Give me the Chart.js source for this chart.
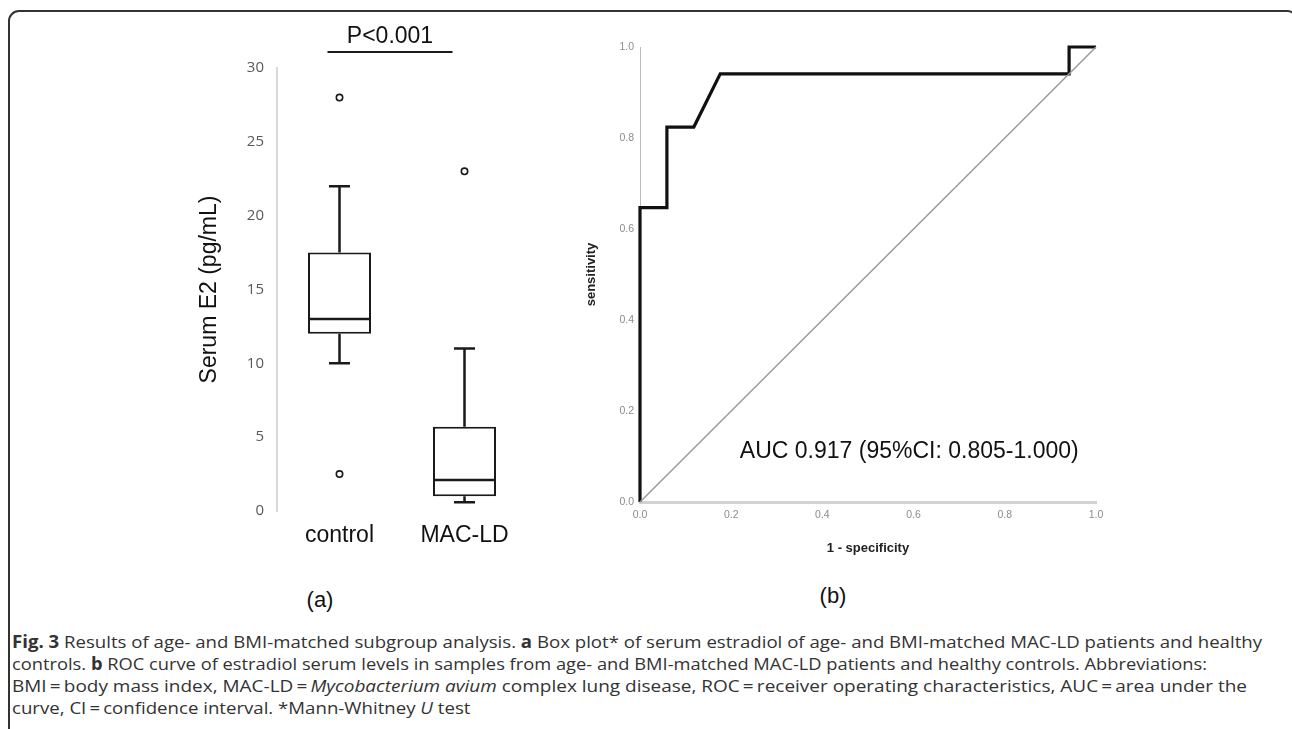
<!DOCTYPE html>
<html>
<head>
<meta charset="utf-8">
<script src="https://cdn.jsdelivr.net/npm/chart.js@4.4.1/dist/chart.umd.min.js"></script>
<style>
    html, body { margin: 0; padding: 0; background: #fff; }
    body { width: 1292px; height: 729px; position: relative; overflow: hidden; }
    .frame {
        position: absolute; left: 8px; top: 10px; width: 1290px; height: 740px;
        border: 2px solid #333; border-radius: 11px; box-sizing: border-box;
    }
    .box { position: absolute; }
    .panel-label {
        position: absolute; font-family: 'Liberation Sans', Arial, sans-serif;
        font-size: 22px; color: #111; transform: translate(-50%, -50%);
    }
    .cap {
        position: absolute; left: 12px; white-space: nowrap;
        font-family: 'Open Sans', sans-serif; font-size: 17px; color: #333;
        transform-origin: 0 50%; line-height: 22px;
    }
</style>
</head>
<body>
<div class="frame"></div>

<div class="box" style="left:190px; top:0px; width:360px; height:560px;">
    <canvas id="boxChart" width="360" height="560"></canvas>
</div>
<div class="box" style="left:560px; top:0px; width:560px; height:560px;">
    <canvas id="rocChart" width="560" height="560"></canvas>
</div>

<div class="panel-label" style="left:320px; top:600px;">(a)</div>
<div class="panel-label" style="left:833px; top:596px;">(b)</div>

<div class="cap" data-w="1250" style="top:631px;"><b>Fig. 3</b> Results of age- and BMI-matched subgroup analysis. <b>a</b> Box plot* of serum estradiol of age- and BMI-matched MAC-LD patients and healthy</div>
<div class="cap" data-w="1195" style="top:653px;">controls. <b>b</b> ROC curve of estradiol serum levels in samples from age- and BMI-matched MAC-LD patients and healthy controls. Abbreviations:</div>
<div class="cap" data-w="1235" style="top:675px;">BMI&thinsp;=&thinsp;body mass index, MAC-LD&thinsp;=&thinsp;<i>Mycobacterium avium</i> complex lung disease, ROC&thinsp;=&thinsp;receiver operating characteristics, AUC&thinsp;=&thinsp;area under the</div>
<div class="cap" style="top:697px;">curve, CI&thinsp;=&thinsp;confidence interval. *Mann-Whitney <i>U</i> test</div>

<script>
    // panel (a): serum E2 box plot
    var groups = ['control', 'MAC-LD'];
    var whiskerLow = [10.0, 0.6];
    var boxQ1 = [12.0, 1.0];
    var boxMedian = [13.0, 2.1];
    var boxQ3 = [17.5, 5.7];
    var whiskerHigh = [22.0, 11.0];
    var outlierGroup = ['control', 'control', 'MAC-LD'];
    var outlierValue = [28.0, 2.5, 23.0];
    var e2Min = 0, e2Max = 30, e2Step = 5;
    var pText = 'P<0.001';

    // panel (b): ROC curve
    var rocFpr = [0, 0, 0.059, 0.059, 0.118, 0.176, 0.941, 0.941, 1.0];
    var rocTpr = [0, 0.647, 0.647, 0.824, 0.824, 0.941, 0.941, 1.0, 1.0];
    var refFpr = [0, 1];
    var refTpr = [0, 1];
    var aucText = 'AUC 0.917 (95%CI: 0.805-1.000)';
    var aucAt = [0.219, 0.11];

    var ARIAL = "'Liberation Sans', Arial, sans-serif";

    var boxPlugin = {
        id: 'boxWhiskers',
        afterDatasetsDraw: function (chart) {
            var ctx = chart.ctx;
            var y = chart.scales.y;
            var x = chart.scales.x;
            var bars = chart.getDatasetMeta(0).data;
            ctx.save();
            ctx.strokeStyle = '#1a1a1a';
            ctx.lineWidth = 2.5;
            bars.forEach(function (bar, i) {
                var cx = bar.x;
                var half = bar.width / 2;
                var cap = bar.width / 6;
                ctx.beginPath();
                // median
                ctx.moveTo(cx - half, y.getPixelForValue(boxMedian[i]));
                ctx.lineTo(cx + half, y.getPixelForValue(boxMedian[i]));
                // whiskers
                ctx.moveTo(cx, y.getPixelForValue(boxQ3[i]));
                ctx.lineTo(cx, y.getPixelForValue(whiskerHigh[i]));
                ctx.moveTo(cx - cap, y.getPixelForValue(whiskerHigh[i]));
                ctx.lineTo(cx + cap, y.getPixelForValue(whiskerHigh[i]));
                ctx.moveTo(cx, y.getPixelForValue(boxQ1[i]));
                ctx.lineTo(cx, y.getPixelForValue(whiskerLow[i]));
                ctx.moveTo(cx - cap, y.getPixelForValue(whiskerLow[i]));
                ctx.lineTo(cx + cap, y.getPixelForValue(whiskerLow[i]));
                ctx.stroke();
            });
            // significance bar
            var x0 = x.getPixelForValue(0) - 12;
            var x1 = x.getPixelForValue(1) - 12;
            var by = chart.chartArea.top - 16;
            ctx.lineWidth = 2;
            ctx.beginPath();
            ctx.moveTo(x0, by);
            ctx.lineTo(x1, by);
            ctx.stroke();
            ctx.fillStyle = '#111';
            ctx.font = '23px ' + ARIAL;
            ctx.textAlign = 'center';
            ctx.textBaseline = 'alphabetic';
            ctx.fillText(pText, (x0 + x1) / 2, by - 9);
            ctx.restore();
        }
    };

    new Chart(document.getElementById('boxChart'), {
        data: {
            labels: groups,
            datasets: [
                {
                    type: 'bar',
                    data: groups.map(function (g, i) { return [boxQ1[i], boxQ3[i]]; }),
                    backgroundColor: '#ffffff',
                    borderColor: '#1a1a1a',
                    borderWidth: 2,
                    borderSkipped: false,
                    barPercentage: 0.504,
                    categoryPercentage: 1
                },
                {
                    type: 'line',
                    showLine: false,
                    data: outlierGroup.map(function (g, i) { return { x: g, y: outlierValue[i] }; }),
                    pointRadius: 3.2,
                    pointBorderWidth: 1.6,
                    pointBackgroundColor: '#ffffff',
                    pointBorderColor: '#1a1a1a'
                }
            ]
        },
        options: {
            responsive: false,
            animation: false,
            layout: { padding: { top: 68, right: 23, left: 0, bottom: 0 } },
            plugins: { legend: { display: false }, tooltip: { enabled: false } },
            scales: {
                x: {
                    type: 'category',
                    offset: true,
                    grid: { display: false, drawTicks: false },
                    border: { display: false },
                    ticks: { color: '#111', padding: 11, font: { family: ARIAL, size: 23 } },
                    afterFit: function (s) { s.height = 49; }
                },
                y: {
                    min: e2Min,
                    max: e2Max,
                    grid: { display: false, drawTicks: false },
                    border: { display: true, color: '#d9d9d9', width: 2 },
                    ticks: { stepSize: e2Step, color: '#595959', padding: 13, font: { family: "'Open Sans', sans-serif", size: 15 } },
                    title: { display: true, text: 'Serum E2 (pg/mL)', color: '#111', padding: { top: 6, bottom: 0 }, font: { family: ARIAL, size: 23 } },
                    afterFit: function (s) { s.width = 87; }
                }
            }
        },
        plugins: [boxPlugin]
    });

    var aucPlugin = {
        id: 'aucLabel',
        afterDatasetsDraw: function (chart) {
            var ctx = chart.ctx;
            ctx.save();
            ctx.fillStyle = '#111';
            ctx.font = '23px ' + ARIAL;
            ctx.textAlign = 'left';
            ctx.textBaseline = 'middle';
            ctx.fillText(aucText, chart.scales.x.getPixelForValue(aucAt[0]), chart.scales.y.getPixelForValue(aucAt[1]));
            ctx.restore();
        }
    };

    var rocTick = { color: '#8c8c8c', font: { family: ARIAL, size: 10.5 } };

    new Chart(document.getElementById('rocChart'), {
        type: 'line',
        data: {
            datasets: [
                {
                    data: refFpr.map(function (v, i) { return { x: v, y: refTpr[i] }; }),
                    borderColor: '#9a9a9a',
                    borderWidth: 1.5,
                    pointRadius: 0,
                    clip: false
                },
                {
                    data: rocFpr.map(function (v, i) { return { x: v, y: rocTpr[i] }; }),
                    borderColor: '#111111',
                    borderWidth: 3.2,
                    pointRadius: 0,
                    tension: 0,
                    clip: false
                }
            ]
        },
        options: {
            responsive: false,
            animation: false,
            layout: { padding: { top: 47, right: 24, left: 0, bottom: 0 } },
            plugins: { legend: { display: false }, tooltip: { enabled: false } },
            scales: {
                x: {
                    type: 'linear',
                    min: 0,
                    max: 1,
                    grid: { display: false, drawTicks: false },
                    border: { display: true, color: '#d2d2d2', width: 3 },
                    ticks: Object.assign({ stepSize: 0.2, padding: 7, callback: function (v) { return v.toFixed(1); } }, rocTick),
                    title: { display: true, text: '1 - specificity', color: '#222', padding: { top: 0, bottom: 4 }, font: { family: ARIAL, size: 13, weight: 'bold' } },
                    afterFit: function (s) { s.height = 58; }
                },
                y: {
                    type: 'linear',
                    min: 0,
                    max: 1,
                    grid: { display: false, drawTicks: false },
                    border: { display: true, color: '#bdbdbd', width: 1 },
                    ticks: Object.assign({ stepSize: 0.2, padding: 6, callback: function (v) { return v.toFixed(1); } }, rocTick),
                    title: { display: true, text: 'sensitivity', color: '#222', padding: { top: 24, bottom: 0 }, font: { family: ARIAL, size: 13, weight: 'bold' } },
                    afterFit: function (s) { s.width = 80; }
                }
            }
        },
        plugins: [aucPlugin]
    });

    // caption: fit each justified line to its printed width; the last line
    // takes the average squeeze of the others
    var caps = Array.prototype.slice.call(document.querySelectorAll('.cap'));
    var sum = 0, n = 0;
    caps.forEach(function (el) {
        if (el.hasAttribute('data-w')) {
            var s = parseFloat(el.getAttribute('data-w')) / el.getBoundingClientRect().width;
            el.style.transform = 'scaleX(' + s + ')';
            sum += s;
            n += 1;
        }
    });
    caps.forEach(function (el) {
        if (!el.hasAttribute('data-w')) {
            el.style.transform = 'scaleX(' + (sum / n) + ')';
        }
    });
</script>
</body>
</html>
